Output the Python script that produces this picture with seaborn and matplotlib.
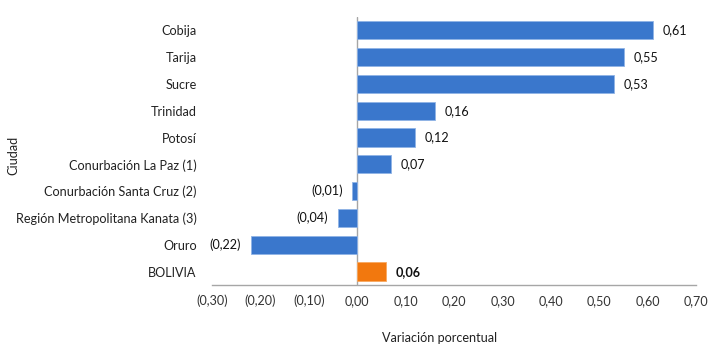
import matplotlib
matplotlib.use("Agg")
import matplotlib.pyplot as plt
import seaborn as sns
import pandas as pd

# Data
ciudades = ["Cobija", "Tarija", "Sucre", "Trinidad", "Potosí",
            "Conurbación La Paz (1)", "Conurbación Santa Cruz (2)",
            "Región Metropolitana Kanata (3)", "Oruro", "BOLIVIA"]
variacion = [0.61, 0.55, 0.53, 0.16, 0.12, 0.07, -0.01, -0.04, -0.22, 0.06]
x_ticks = [-0.30, -0.20, -0.10, 0.00, 0.10, 0.20, 0.30, 0.40, 0.50, 0.60, 0.70]

BLUE = "#3A77CC"
ORANGE = "#F2780E"
FS = 9.1


def fmt(v):
    s = f"{abs(v):.2f}".replace(".", ",")
    return f"({s})" if v < 0 else s


df = pd.DataFrame({"Ciudad": ciudades, "Variacion": variacion})
colors = [ORANGE if c == "BOLIVIA" else BLUE for c in ciudades]

sns.set_style("white")
plt.rcParams["font.family"] = ["Lato", "DejaVu Sans"]

fig = plt.figure(figsize=(7.23, 3.51), dpi=100)
ax = fig.add_axes([0.293, 0.188, 0.670, 0.764])

sns.barplot(data=df, y="Ciudad", x="Variacion", hue="Ciudad", palette=colors,
            orient="h", width=0.68, legend=False, ax=ax, saturation=1,
            edgecolor="#8FB3E6", linewidth=0.6)
# orange bar edge
ax.patches[-1].set_edgecolor("#F8A860")

ax.set_xlim(-0.30, 0.70)
ax.set_ylim(9.5, -0.5)
ax.set_xticks(x_ticks)
ax.set_xticklabels([fmt(t) for t in x_ticks], fontsize=FS, color="#333333")
ax.tick_params(axis="x", length=0, pad=7)
ax.tick_params(axis="y", length=0, pad=11, labelsize=FS, labelcolor="#222222")

for s in ["top", "right", "left"]:
    ax.spines[s].set_visible(False)
ax.spines["bottom"].set_color("#A6A6A6")
ax.spines["bottom"].set_linewidth(1)
ax.axvline(0, color="#A6A6A6", lw=1, zorder=0.5)

for i, (c, v) in enumerate(zip(ciudades, variacion)):
    bold = c == "BOLIVIA"
    if v >= 0:
        ax.text(v + 0.02, i, fmt(v), va="center", ha="left", fontsize=FS,
                fontweight="bold" if bold else "normal", color="#111111")
    else:
        ax.text(v - 0.02, i, fmt(v), va="center", ha="right", fontsize=FS,
                color="#111111")

ax.set_xlabel("Variación porcentual", fontsize=FS, color="#222222")
ax.xaxis.set_label_coords(0.47, -0.198)
ax.xaxis.label.set_va("center")
ax.set_ylabel("Ciudad", fontsize=FS, color="#222222")
ax.yaxis.set_label_coords(-0.41, 0.485)
ax.yaxis.label.set_va("center")

fig.savefig("out.png", dpi=100, facecolor="white")
